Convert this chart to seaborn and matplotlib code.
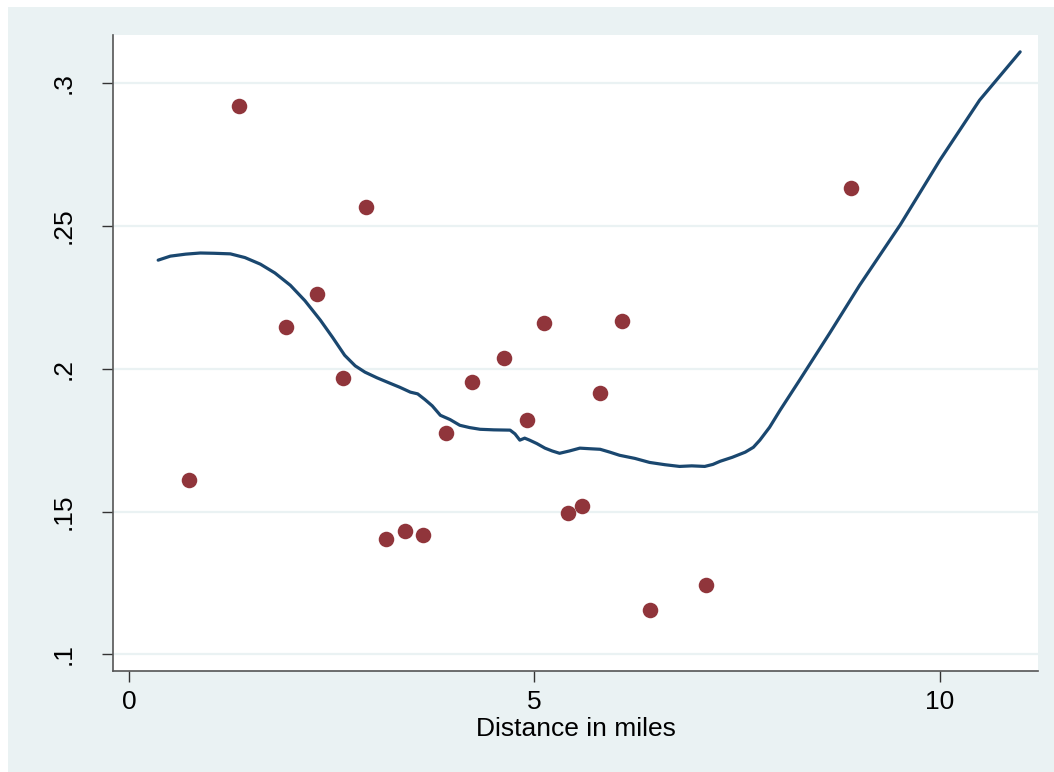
import matplotlib
matplotlib.use("Agg")
import matplotlib.pyplot as plt
import seaborn as sns
import pandas as pd
from matplotlib.patches import Rectangle

# Scatter data (distance in miles, value)
dist = [0.74, 1.36, 1.94, 2.32, 2.64, 2.92, 3.17, 3.40, 3.63, 3.91, 4.23,
        4.62, 4.91, 5.12, 5.41, 5.59, 5.81, 6.08, 6.42, 7.12, 8.90]
value = [0.161, 0.292, 0.2145, 0.2261, 0.1967, 0.2566, 0.1403, 0.1431, 0.1417,
         0.1774, 0.1953, 0.2037, 0.1820, 0.2159, 0.1494, 0.1518, 0.1914,
         0.2166, 0.1154, 0.1242, 0.2632]

# Smoothed (lowess-like) curve
fit_x = [0.36, 0.51, 0.70, 0.88, 1.05, 1.25, 1.43, 1.62, 1.80, 1.99, 2.17, 2.36,
         2.51, 2.66, 2.79, 2.91, 3.06, 3.22, 3.34, 3.47, 3.56, 3.65, 3.74, 3.84,
         3.96, 4.08, 4.20, 4.33, 4.50, 4.70, 4.76, 4.82, 4.88, 4.94, 5.03, 5.13,
         5.22, 5.31, 5.43, 5.56, 5.68, 5.81, 5.93, 6.05, 6.24, 6.42, 6.61, 6.79,
         6.94, 7.10, 7.20, 7.29, 7.44, 7.60, 7.70, 7.78, 7.90, 8.03, 8.27, 8.64,
         9.01, 9.51, 10.00, 10.49, 10.99]
fit_y = [0.2380, 0.2394, 0.2401, 0.2405, 0.2404, 0.2402, 0.2389, 0.2366, 0.2335,
         0.2292, 0.2238, 0.2170, 0.2110, 0.2047, 0.2010, 0.1988, 0.1968, 0.1949,
         0.1935, 0.1918, 0.1912, 0.1892, 0.1870, 0.1837, 0.1822, 0.1802, 0.1794,
         0.1788, 0.1786, 0.1785, 0.1772, 0.1750, 0.1757, 0.1750, 0.1738, 0.1722,
         0.1712, 0.1704, 0.1712, 0.1722, 0.1720, 0.1718, 0.1708, 0.1697, 0.1686,
         0.1672, 0.1664, 0.1658, 0.1660, 0.1658, 0.1665, 0.1676, 0.1690, 0.1708,
         0.1725, 0.1750, 0.1795, 0.1855, 0.1960, 0.2124, 0.2292, 0.2503, 0.2730,
         0.2940, 0.3109]

x_ticks = [0, 5, 10]
x_tick_labels = ["0", "5", "10"]
y_ticks = [0.10, 0.15, 0.20, 0.25, 0.30]
y_tick_labels = [".1", ".15", ".2", ".25", ".3"]
x_label = "Distance in miles"

BG = "#EAF2F3"
MAROON = "#90353B"
NAVY = "#1A476F"

sns.set_theme(style="white")
plt.rcParams["font.family"] = ["Liberation Sans", "DejaVu Sans"]

W, H = 1054, 772
fig = plt.figure(figsize=(W / 100, H / 100), dpi=100, facecolor="white")
fig.patches.append(Rectangle((8 / W, 0), 1 - 8 / W, 1 - 7 / H,
                             transform=fig.transFigure, facecolor=BG,
                             edgecolor="none", zorder=-10))
ax = fig.add_axes([113 / W, 1 - 671 / H, (1038 - 113) / W, (671 - 35) / H])
ax.set_facecolor("white")

df_pts = pd.DataFrame({"dist": dist, "value": value})
df_fit = pd.DataFrame({"dist": fit_x, "value": fit_y})

sns.lineplot(data=df_fit, x="dist", y="value", ax=ax, color=NAVY,
             linewidth=2.3, sort=False, zorder=3)
sns.scatterplot(data=df_pts, x="dist", y="value", ax=ax, color=MAROON,
                s=125, edgecolor=MAROON, linewidth=0, zorder=4)

ax.set_xlim(-0.197, 11.21)
ax.set_ylim(0.0942, 0.3168)

ax.set_xticks(x_ticks)
ax.set_xticklabels(x_tick_labels)
ax.set_yticks(y_ticks)
ax.set_yticklabels(y_tick_labels, rotation=90, va="center")

for yv in y_ticks:
    ax.axhline(yv, color=BG, linewidth=1.6, zorder=1)

for s in ["top", "right"]:
    ax.spines[s].set_visible(False)
for s in ["left", "bottom"]:
    ax.spines[s].set_color("#555555")
    ax.spines[s].set_linewidth(1.2)

ax.tick_params(axis="both", which="major", direction="out", length=8,
               width=1.0, color="#333333", labelsize=19, labelcolor="black",
               left=True, bottom=True)
ax.tick_params(axis="y", pad=19)
ax.tick_params(axis="x", pad=6)

ax.set_xlabel(x_label, fontsize=19, color="black", labelpad=2)
ax.set_ylabel("")

fig.savefig("out.png", dpi=100, facecolor=fig.get_facecolor())
